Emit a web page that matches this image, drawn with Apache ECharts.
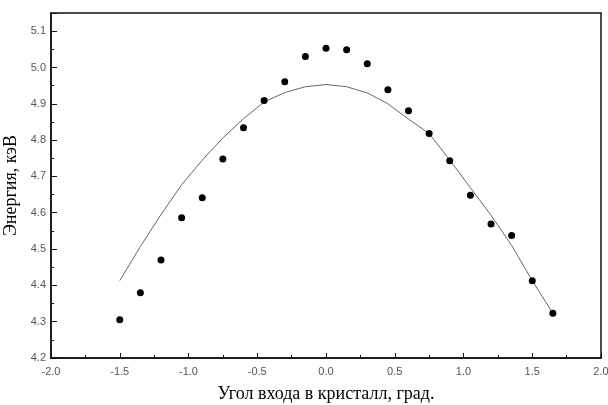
<!DOCTYPE html>
<html>
<head>
<meta charset="utf-8">
<script src="https://cdn.jsdelivr.net/npm/echarts@6/dist/echarts.min.js"></script>
<style>
  html, body { margin: 0; padding: 0; background: #fff; }
  #chart { width: 608px; height: 405px; }
</style>
</head>
<body>
<div id="chart"></div>
<script>
// угол входа (измерения)
const angles = [-1.5, -1.35, -1.2, -1.05, -0.9, -0.75, -0.6, -0.45, -0.3, -0.15, 0,
                0.15, 0.3, 0.45, 0.6, 0.75, 0.9, 1.05, 1.2, 1.35, 1.5, 1.65];
// энергия, кэВ — точки
const measured = [4.305, 4.380, 4.470, 4.586, 4.641, 4.748, 4.834, 4.909, 4.961, 5.030, 5.053,
                  5.049, 5.010, 4.939, 4.881, 4.818, 4.743, 4.648, 4.569, 4.537, 4.413, 4.323];
// расчётная кривая
const fitted = [4.413, 4.507, 4.595, 4.677, 4.745, 4.806, 4.859, 4.905, 4.931, 4.947, 4.953,
                4.947, 4.930, 4.900, 4.858, 4.818, 4.745, 4.669, 4.593, 4.510, 4.413, 4.323];

const chart = echarts.init(document.getElementById('chart'));

const tickLabel = { color: '#555', fontFamily: 'Liberation Sans, Arial, sans-serif', fontSize: 11 };

chart.setOption({
    animation: false,
    grid: {
        left: 51, right: 7, top: 13, bottom: 47,
        containLabel: false,
        outerBoundsMode: 'none',
        show: true, borderColor: '#111', borderWidth: 1.5
    },
    xAxis: {
        type: 'value',
        min: -2, max: 2, interval: 0.5,
        name: 'Угол входа в кристалл, град.',
        nameLocation: 'middle',
        nameGap: 27,
        nameTextStyle: { color: '#000', fontFamily: 'Liberation Serif, Times New Roman, serif', fontSize: 18 },
        axisLine: { show: true, onZero: false, lineStyle: { color: '#111', width: 1.5 } },
        axisTick: { show: true, inside: true, length: 5, lineStyle: { color: '#111' } },
        minorTick: { show: true, splitNumber: 2, length: 3, lineStyle: { color: '#111' } },
        axisLabel: { ...tickLabel, margin: 8, formatter: v => v.toFixed(1) },
        splitLine: { show: false }
    },
    yAxis: {
        type: 'value',
        min: 4.2, max: 5.15, interval: 0.1,
        name: 'Энергия, кэВ',
        nameLocation: 'middle',
        nameGap: 23,
        nameTextStyle: { color: '#000', fontFamily: 'Liberation Serif, Times New Roman, serif', fontSize: 18 },
        axisLine: { show: true, onZero: false, lineStyle: { color: '#111', width: 1.5 } },
        axisTick: { show: true, inside: true, length: 6, lineStyle: { color: '#111' } },
        minorTick: { show: true, splitNumber: 2, length: 3, lineStyle: { color: '#111' } },
        axisLabel: { ...tickLabel, margin: 5, showMaxLabel: false, formatter: v => v.toFixed(1) },
        splitLine: { show: false }
    },
    series: [
        {
            type: 'line',
            data: angles.map((a, i) => [a, fitted[i]]),
            showSymbol: false,
            smooth: false,
            lineStyle: { color: '#666', width: 1 },
            z: 2
        },
        {
            type: 'scatter',
            data: angles.map((a, i) => [a, measured[i]]),
            symbol: 'circle',
            symbolSize: 7,
            itemStyle: { color: '#000', opacity: 1 },
            z: 3
        }
    ]
});

window.addEventListener('resize', function () {
    chart.resize();
});
</script>
</body>
</html>
